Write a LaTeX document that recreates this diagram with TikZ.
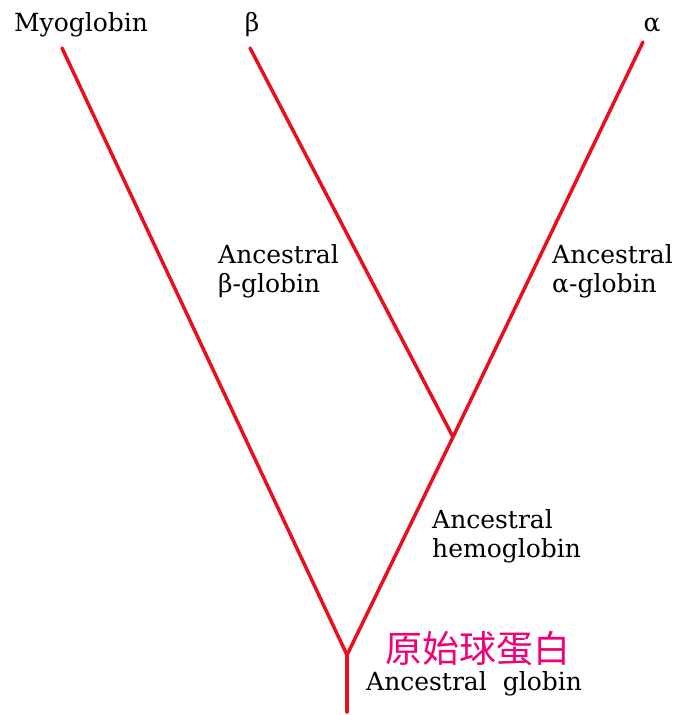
\documentclass[tikz,border=0pt]{standalone}
\usepackage{fontspec}
\setmainfont{DejaVu Serif}
\newfontfamily\cjkfont{Noto Sans CJK SC}
\usepackage{xcolor}
\usetikzlibrary{positioning}
\definecolor{branchcol}{HTML}{E8101E}
\definecolor{cjkcol}{HTML}{F0007A}
\tikzset{
  branch/.style={draw=branchcol,line width=3.5pt,line cap=round},
  leaf/.style={font=\fontsize{25}{29}\selectfont,inner sep=0pt,anchor=base},
  anc/.style={font=\fontsize{25}{29}\selectfont,inner sep=0pt,anchor=base west,align=left},
}

\begin{document}
\begin{tikzpicture}[x=1pt,y=-1pt]
  \useasboundingbox (0,0) rectangle (675,715);
  % tree points
  \coordinate (root) at (347,712);
  \coordinate (base) at (347,655);
  \coordinate (hb) at (453,437);
  \coordinate (myo) at (62,48);
  \coordinate (beta) at (250,48);
  \coordinate (alpha) at (643,42);
  % branches
  \draw[branch] (root) -- (base);
  \draw[branch] (base) -- (myo);
  \draw[branch] (base) -- (hb);
  \draw[branch] (hb) -- (beta);
  \draw[branch] (hb) -- (alpha);
  % leaf names
  \node[leaf] (lmyo) at (81,31) {Myoglobin};
  \node[leaf] (lbeta) at (252,31) {β};
  \node[leaf] (lalpha) at (652,31) {α};
  % ancestors (base = last line)
  \node[anc] (abeta) at (218,292) {Ancestral\\β-globin};
  \node[anc] (aalpha) at (552,292) {Ancestral\\α-globin};
  \node[anc] (ahb) at (432,557) {Ancestral\\hemoglobin};
  \node[anc,font=\fontsize{37}{40}\selectfont\cjkfont,text=cjkcol] (cjk) at (385,662) {原始球蛋白};
  \node[anc] (aglob) at (366,690) {Ancestral\ \ globin};
\end{tikzpicture}
\end{document}
